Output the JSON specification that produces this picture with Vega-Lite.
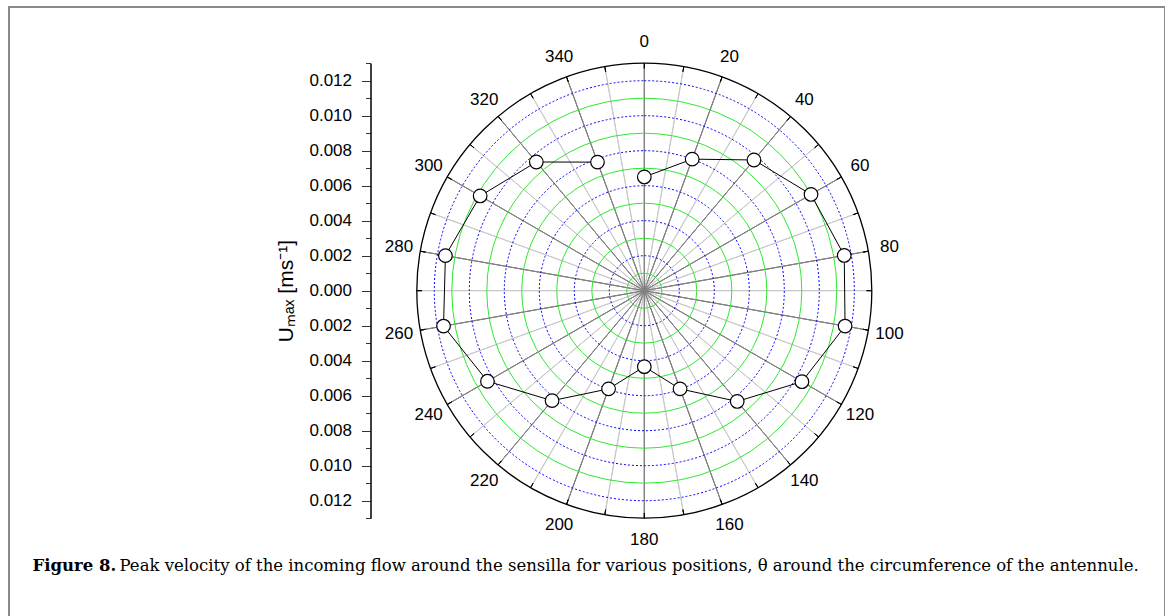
{
  "$schema": "https://vega.github.io/schema/vega-lite/v6.json",
  "width": 1156,
  "height": 614,
  "autosize": {"type": "none"},
  "padding": {"left": 9, "top": 7, "right": 0, "bottom": 0},
  "background": "white",
  "config": {
    "view": {"stroke": "#8a8a8a", "strokeWidth": 2},
    "font": "Liberation Sans"
  },
  "datasets": {
    "rings": [
      {"r": 0.001, "kind": "green"},
      {"r": 0.002, "kind": "blue"},
      {"r": 0.003, "kind": "green"},
      {"r": 0.004, "kind": "blue"},
      {"r": 0.005, "kind": "green"},
      {"r": 0.006, "kind": "blue"},
      {"r": 0.007, "kind": "green"},
      {"r": 0.008, "kind": "blue"},
      {"r": 0.009, "kind": "green"},
      {"r": 0.010, "kind": "blue"},
      {"r": 0.011, "kind": "green"},
      {"r": 0.012, "kind": "blue"},
      {"r": 0.013, "kind": "outer"}
    ],
    "spokes": [
      {"a": 0, "major": true, "lab": "0"},
      {"a": 10, "major": false, "lab": ""},
      {"a": 20, "major": true, "lab": "20"},
      {"a": 30, "major": false, "lab": ""},
      {"a": 40, "major": true, "lab": "40"},
      {"a": 50, "major": false, "lab": ""},
      {"a": 60, "major": true, "lab": "60"},
      {"a": 70, "major": false, "lab": ""},
      {"a": 80, "major": true, "lab": "80"},
      {"a": 90, "major": false, "lab": ""},
      {"a": 100, "major": true, "lab": "100"},
      {"a": 110, "major": false, "lab": ""},
      {"a": 120, "major": true, "lab": "120"},
      {"a": 130, "major": false, "lab": ""},
      {"a": 140, "major": true, "lab": "140"},
      {"a": 150, "major": false, "lab": ""},
      {"a": 160, "major": true, "lab": "160"},
      {"a": 170, "major": false, "lab": ""},
      {"a": 180, "major": true, "lab": "180"},
      {"a": 190, "major": false, "lab": ""},
      {"a": 200, "major": true, "lab": "200"},
      {"a": 210, "major": false, "lab": ""},
      {"a": 220, "major": true, "lab": "220"},
      {"a": 230, "major": false, "lab": ""},
      {"a": 240, "major": true, "lab": "240"},
      {"a": 250, "major": false, "lab": ""},
      {"a": 260, "major": true, "lab": "260"},
      {"a": 270, "major": false, "lab": ""},
      {"a": 280, "major": true, "lab": "280"},
      {"a": 290, "major": false, "lab": ""},
      {"a": 300, "major": true, "lab": "300"},
      {"a": 310, "major": false, "lab": ""},
      {"a": 320, "major": true, "lab": "320"},
      {"a": 330, "major": false, "lab": ""},
      {"a": 340, "major": true, "lab": "340"},
      {"a": 350, "major": false, "lab": ""}
    ],
    "points": [
      {"a": 0, "r": 0.0065, "ux": 0.0, "uy": 0.0065},
      {"a": 20, "r": 0.0080, "ux": 0.002736, "uy": 0.007518},
      {"a": 40, "r": 0.00975, "ux": 0.006267, "uy": 0.007469},
      {"a": 60, "r": 0.0110, "ux": 0.009526, "uy": 0.0055},
      {"a": 80, "r": 0.0116, "ux": 0.011424, "uy": 0.002014},
      {"a": 100, "r": 0.01165, "ux": 0.011473, "uy": -0.002023},
      {"a": 120, "r": 0.0104, "ux": 0.009007, "uy": -0.0052},
      {"a": 140, "r": 0.00826, "ux": 0.005309, "uy": -0.006327},
      {"a": 160, "r": 0.00597, "ux": 0.002042, "uy": -0.00561},
      {"a": 180, "r": 0.00434, "ux": 0.0, "uy": -0.00434},
      {"a": 200, "r": 0.00597, "ux": -0.002042, "uy": -0.00561},
      {"a": 220, "r": 0.0082, "ux": -0.005271, "uy": -0.006282},
      {"a": 240, "r": 0.01035, "ux": -0.008963, "uy": -0.005175},
      {"a": 260, "r": 0.01165, "ux": -0.011473, "uy": -0.002023},
      {"a": 280, "r": 0.01154, "ux": -0.011365, "uy": 0.002004},
      {"a": 300, "r": 0.01083, "ux": -0.009379, "uy": 0.005415},
      {"a": 320, "r": 0.0096, "ux": -0.006171, "uy": 0.007354},
      {"a": 340, "r": 0.00782, "ux": -0.002675, "uy": 0.007348}
    ]
  },
  "resolve": {"axis": {"y": "independent", "x": "independent"}},
  "layer": [
    {
      "data": {"name": "spokes"},
      "mark": {"type": "arc", "fillOpacity": 0, "stroke": "#c8c8c8", "strokeWidth": 1},
      "encoding": {
        "x": {"datum": 0, "type": "quantitative", "axis": null, "scale": {"domain": [-0.013, 0.013], "range": [407.8, 862.8], "nice": false, "zero": false}},
        "y": {"datum": 0, "type": "quantitative", "axis": null, "scale": {"domain": [-0.013, 0.013], "range": [511.2, 56.2], "nice": false, "zero": false}},
        "theta": {"field": "a", "type": "quantitative", "stack": null, "scale": {"type": "linear", "domain": [0, 360], "range": [0, 6.283185307179586], "nice": false}},
        "theta2": {"field": "a"},
        "radius": {"datum": 0.013, "type": "quantitative", "stack": null, "scale": {"type": "linear", "domain": [0, 0.013], "range": [0, 227.5], "nice": false, "zero": true}}
      }
    },
    {
      "data": {"name": "spokes"},
      "transform": [{"filter": "datum.major"}],
      "mark": {"type": "arc", "fillOpacity": 0, "stroke": "#808080", "strokeWidth": 1},
      "encoding": {
        "x": {"datum": 0, "type": "quantitative", "axis": null},
        "y": {"datum": 0, "type": "quantitative", "axis": null},
        "theta": {"field": "a", "type": "quantitative", "stack": null},
        "theta2": {"field": "a"},
        "radius": {"datum": 0.013, "type": "quantitative", "stack": null}
      }
    },
    {
      "data": {"name": "rings"},
      "transform": [{"filter": "datum.kind === 'green'"}],
      "mark": {"type": "arc", "fillOpacity": 0, "stroke": "#2ee82e", "strokeWidth": 1},
      "encoding": {
        "x": {"datum": 0, "type": "quantitative", "axis": null},
        "y": {"datum": 0, "type": "quantitative", "axis": null},
        "theta": {"datum": 0, "type": "quantitative", "stack": null},
        "theta2": {"datum": 360},
        "radius": {"field": "r", "type": "quantitative", "stack": null}
      }
    },
    {
      "data": {"name": "rings"},
      "transform": [{"filter": "datum.kind === 'blue'"}],
      "mark": {"type": "arc", "fillOpacity": 0, "stroke": "#0000ff", "strokeWidth": 1, "strokeDash": [2, 2]},
      "encoding": {
        "x": {"datum": 0, "type": "quantitative", "axis": null},
        "y": {"datum": 0, "type": "quantitative", "axis": null},
        "theta": {"datum": 0, "type": "quantitative", "stack": null},
        "theta2": {"datum": 360},
        "radius": {"field": "r", "type": "quantitative", "stack": null}
      }
    },
    {
      "data": {"name": "rings"},
      "transform": [{"filter": "datum.kind === 'outer'"}],
      "mark": {"type": "arc", "fillOpacity": 0, "stroke": "#000000", "strokeWidth": 1.3},
      "encoding": {
        "x": {"datum": 0, "type": "quantitative", "axis": null},
        "y": {"datum": 0, "type": "quantitative", "axis": null},
        "theta": {"datum": 0, "type": "quantitative", "stack": null},
        "theta2": {"datum": 360},
        "radius": {"field": "r", "type": "quantitative", "stack": null}
      }
    },
    {
      "data": {"name": "spokes"},
      "mark": {"type": "arc", "fillOpacity": 0, "stroke": "#000000", "strokeWidth": 1},
      "encoding": {
        "x": {"datum": 0, "type": "quantitative", "axis": null},
        "y": {"datum": 0, "type": "quantitative", "axis": null},
        "theta": {"field": "a", "type": "quantitative", "stack": null},
        "theta2": {"field": "a"},
        "radius": {"datum": 0.013, "type": "quantitative", "stack": null},
        "radius2": {"datum": 0.0127}
      }
    },
    {
      "data": {"name": "spokes"},
      "transform": [{"filter": "datum.major"}],
      "mark": {"type": "text", "fontSize": 17, "font": "Liberation Sans", "color": "#000000", "align": "center", "baseline": "middle"},
      "encoding": {
        "x": {"datum": 0, "type": "quantitative", "axis": null},
        "y": {"datum": 0, "type": "quantitative", "axis": null},
        "theta": {"field": "a", "type": "quantitative", "stack": null},
        "radius": {"datum": 0.01423, "type": "quantitative", "stack": null},
        "text": {"field": "lab", "type": "nominal"}
      }
    },
    {
      "data": {"name": "points"},
      "mark": {"type": "line", "color": "#000000", "strokeWidth": 1},
      "encoding": {
        "x": {"field": "ux", "type": "quantitative", "axis": {
          "orient": "bottom", "domain": false, "ticks": false, "labels": false, "grid": false,
          "title": "Figure 8.", "titleX": 23, "titleY": -51, "titleAlign": "left", "titleAnchor": null, "titleBaseline": "alphabetic",
          "titleFont": "DejaVu Serif", "titleFontSize": 16.5, "titleFontWeight": "bold", "titleColor": "#000000", "titleLimit": 2000
        }},
        "y": {"field": "uy", "type": "quantitative", "axis": {
          "orient": "left", "offset": -361.5,
          "values": [-0.013, -0.011, -0.009, -0.007, -0.005, -0.003, -0.001, 0.001, 0.003, 0.005, 0.007, 0.009, 0.011, 0.013],
          "labels": false, "title": null, "grid": false, "domain": true, "domainColor": "#000000",
          "tickSize": 5, "tickColor": "#333333"
        }},
        "order": {"field": "a", "type": "quantitative"}
      }
    },
    {
      "data": {"name": "points"},
      "mark": {"type": "point", "filled": false, "fill": "#ffffff", "fillOpacity": 1, "stroke": "#000000", "strokeWidth": 1.2, "opacity": 1, "size": 185, "shape": "circle"},
      "encoding": {
        "x": {"field": "ux", "type": "quantitative", "axis": {
          "orient": "bottom", "domain": false, "ticks": false, "labels": false, "grid": false,
          "title": "Peak velocity of the incoming flow around the sensilla for various positions, \u03b8 around the circumference of the antennule.",
          "titleX": 110, "titleY": -51, "titleAlign": "left", "titleAnchor": null, "titleBaseline": "alphabetic",
          "titleFont": "DejaVu Serif", "titleFontSize": 16.5, "titleFontWeight": "normal", "titleColor": "#000000", "titleLimit": 2000
        }},
        "y": {"field": "uy", "type": "quantitative", "axis": {
          "orient": "left", "offset": -361.5,
          "values": [-0.012, -0.010, -0.008, -0.006, -0.004, -0.002, 0, 0.002, 0.004, 0.006, 0.008, 0.010, 0.012],
          "labelExpr": "format(abs(datum.value), '.3f')",
          "labelFont": "Liberation Sans", "labelFontSize": 17, "labelColor": "#000000", "labelPadding": 10,
          "grid": false, "domain": true, "domainColor": "#000000",
          "tickSize": 9, "tickColor": "#333333",
          "title": "U\u2098\u2090\u2093 [ms\u207b\u00b9]",
          "titleFont": "Liberation Sans", "titleFontSize": 21, "titleFontWeight": "normal", "titleColor": "#000000", "titlePadding": 12
        }}
      }
    }
  ]
}
